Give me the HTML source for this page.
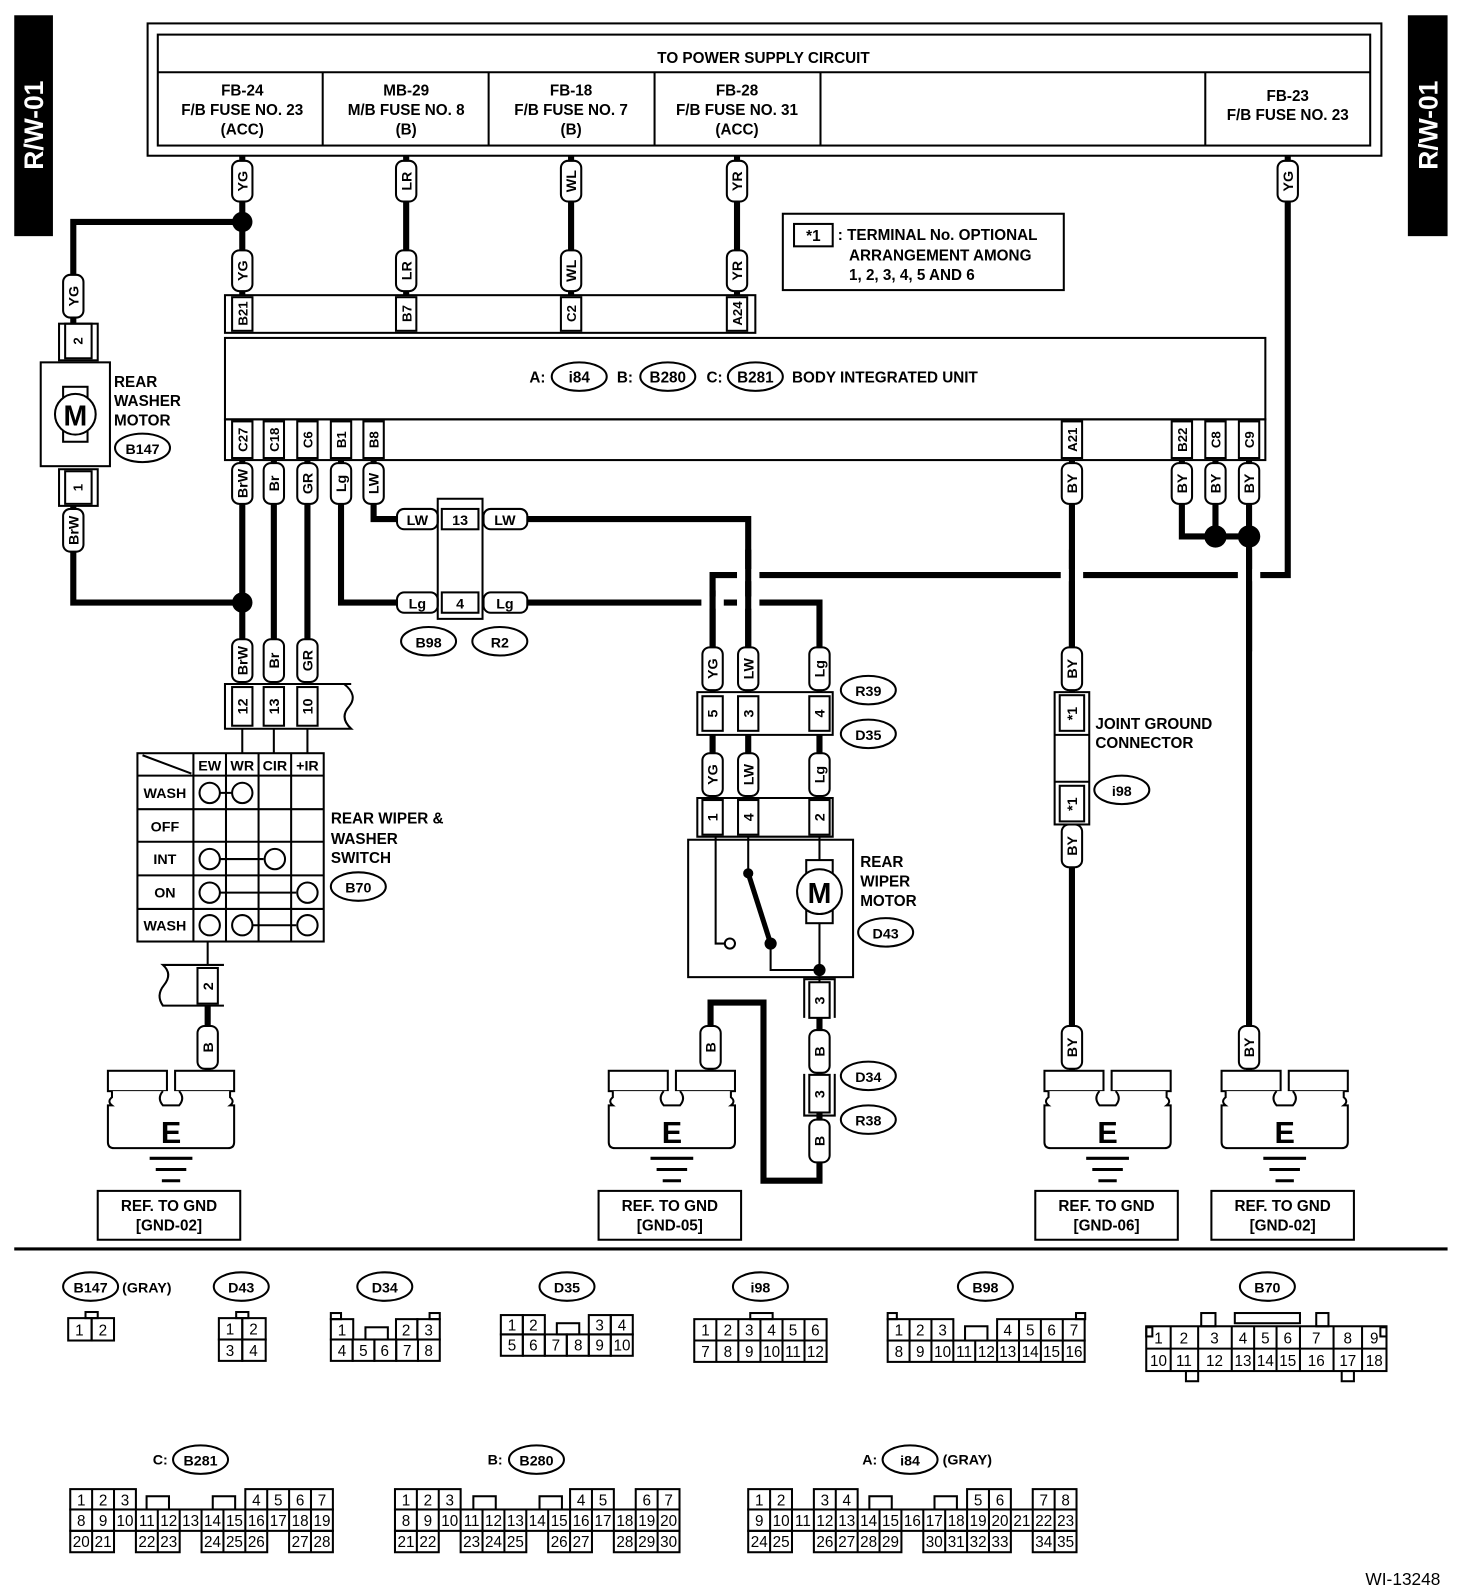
<!DOCTYPE html>
<html><head><meta charset="utf-8"><style>
html,body{margin:0;padding:0;background:#fff}
svg{display:block}
text{font-family:"Liberation Sans",sans-serif;font-weight:bold;fill:#000}
.c{text-anchor:middle}
.n{font-family:"Liberation Sans Narrow","Liberation Sans",sans-serif;font-weight:normal;font-size:15px;text-anchor:middle}
.th{fill:none;stroke:#000;stroke-width:2}
.w{fill:none;stroke:#000;stroke-width:6}
.p{fill:#fff;stroke:#000;stroke-width:2}
</style></head><body>
<svg width="1472" height="1596" viewBox="0 0 1446 1568" preserveAspectRatio="none" xmlns="http://www.w3.org/2000/svg">
<defs>
<g id="gnd">
<rect x="-62" y="1052" width="58" height="20" class="p"/>
<rect x="4" y="1052" width="58" height="20" class="p"/>
<path d="M-58,1072 V1078 Q-63,1082 -58,1086 H-62 V1122 Q-62,1128 -56,1128 H56 Q62,1128 62,1122 V1086 H58 Q63,1082 58,1078 V1072 M-8,1072 Q-14,1079 -8,1086 H8 Q14,1079 8,1072" class="p"/>
<text x="0" y="1123" class="c" style="font-size:30px">E</text>
<path d="M-21,1138 H21 M-15,1149 H15 M-9,1160 H9" stroke="#000" stroke-width="3"/>
</g>
</defs>
<rect x="14" y="15" width="38" height="217" fill="#000"/>
<text transform="translate(42,123) rotate(-90)" class="c" style="font-size:26px;fill:#fff">R/W-01</text>
<rect x="1383" y="15" width="39" height="217" fill="#000"/>
<text transform="translate(1412,123) rotate(-90)" class="c" style="font-size:26px;fill:#fff">R/W-01</text>

<rect x="145" y="23" width="1212" height="130" class="th"/>
<rect x="155" y="34" width="1191" height="109" class="th" stroke-width="3"/>
<line x1="155" y1="71" x2="1346" y2="71" class="th" stroke-width="3"/>
<path d="M317,71V143 M480,71V143 M643,71V143 M806,71V143 M1184,71V143" class="th"/>
<g style="font-size:15px" class="c">
<text x="750" y="62" class="c">TO POWER SUPPLY CIRCUIT</text>
<text x="238" y="94" class="c">FB-24</text><text x="238" y="113" class="c">F/B FUSE NO. 23</text><text x="238" y="132" class="c">(ACC)</text>
<text x="399" y="94" class="c">MB-29</text><text x="399" y="113" class="c">M/B FUSE NO. 8</text><text x="399" y="132" class="c">(B)</text>
<text x="561" y="94" class="c">FB-18</text><text x="561" y="113" class="c">F/B FUSE NO. 7</text><text x="561" y="132" class="c">(B)</text>
<text x="724" y="94" class="c">FB-28</text><text x="724" y="113" class="c">F/B FUSE NO. 31</text><text x="724" y="132" class="c">(ACC)</text>
<text x="1265" y="99" class="c">FB-23</text><text x="1265" y="118" class="c">F/B FUSE NO. 23</text>
</g>

<g class="w">
<path d="M238,153V290 M399,153V290 M561,153V290 M724,153V290"/>
<path d="M238,218H72V318"/>
<path d="M72,497V592H238"/>
<path d="M238,452V672 M269,452V672 M302,452V672"/>
<path d="M335,452V592H430 M367,452V510H430"/>
<path d="M474,510H735V680 M474,592H805V680"/>
<path d="M1265,153V565H700V680"/>
<path d="M1053,452V680 M1053,810V1052"/>
<path d="M1161,452V527H1227 M1194,452V527 M1227,452V1052"/>
<path d="M204,988V1052"/>
<path d="M805,1000V1160H750V985H698V1052"/>
</g>
<g fill="#fff">
<rect x="724" y="559" width="22" height="12"/>
<rect x="1042" y="559" width="22" height="12"/>
<rect x="1216" y="559" width="22" height="12"/>
<rect x="689" y="586" width="22" height="12"/>
<rect x="724" y="586" width="22" height="12"/>
</g>
<path d="M735,540V640 M1053,540V640 M1227,540V640 M700,580V640" class="w"/>
<circle cx="238" cy="218" r="10"/><circle cx="238" cy="592" r="10"/>
<circle cx="1194" cy="527" r="11"/><circle cx="1227" cy="527" r="11"/>

<g style="font-size:14px">
<g class="p">
<rect x="228" y="158" width="20" height="40" rx="7"/><rect x="389" y="158" width="20" height="40" rx="7"/><rect x="551" y="158" width="20" height="40" rx="7"/><rect x="714" y="158" width="20" height="40" rx="7"/><rect x="1255" y="158" width="20" height="40" rx="7"/>
<rect x="228" y="246" width="20" height="40" rx="7"/><rect x="389" y="246" width="20" height="40" rx="7"/><rect x="551" y="246" width="20" height="40" rx="7"/><rect x="714" y="246" width="20" height="40" rx="7"/>
<rect x="62" y="270" width="20" height="42" rx="7"/><rect x="62" y="500" width="20" height="42" rx="7"/>
<rect x="228" y="455" width="20" height="40" rx="7"/><rect x="259" y="455" width="20" height="40" rx="7"/><rect x="292" y="455" width="20" height="40" rx="7"/><rect x="325" y="455" width="20" height="40" rx="7"/><rect x="357" y="455" width="20" height="40" rx="7"/>
<rect x="1043" y="455" width="20" height="40" rx="7"/><rect x="1151" y="455" width="20" height="40" rx="7"/><rect x="1184" y="455" width="20" height="40" rx="7"/><rect x="1217" y="455" width="20" height="40" rx="7"/>
<rect x="228" y="628" width="20" height="42" rx="7"/><rect x="259" y="628" width="20" height="42" rx="7"/><rect x="292" y="628" width="20" height="42" rx="7"/>
<rect x="690" y="636" width="20" height="42" rx="7"/><rect x="725" y="636" width="20" height="42" rx="7"/><rect x="795" y="636" width="20" height="42" rx="7"/>
<rect x="690" y="740" width="20" height="42" rx="7"/><rect x="725" y="740" width="20" height="42" rx="7"/><rect x="795" y="740" width="20" height="42" rx="7"/>
<rect x="1043" y="636" width="20" height="42" rx="7"/><rect x="1043" y="810" width="20" height="42" rx="7"/>
<rect x="194" y="1008" width="20" height="42" rx="7"/><rect x="688" y="1008" width="20" height="42" rx="7"/><rect x="795" y="1012" width="20" height="42" rx="7"/><rect x="795" y="1100" width="20" height="42" rx="7"/>
<rect x="1043" y="1008" width="20" height="42" rx="7"/><rect x="1217" y="1008" width="20" height="42" rx="7"/>
</g>
<g class="c">
<text transform="translate(243,178) rotate(-90)" class="c">YG</text><text transform="translate(404,178) rotate(-90)" class="c">LR</text><text transform="translate(566,178) rotate(-90)" class="c">WL</text><text transform="translate(729,178) rotate(-90)" class="c">YR</text><text transform="translate(1270,178) rotate(-90)" class="c">YG</text>
<text transform="translate(243,266) rotate(-90)" class="c">YG</text><text transform="translate(404,266) rotate(-90)" class="c">LR</text><text transform="translate(566,266) rotate(-90)" class="c">WL</text><text transform="translate(729,266) rotate(-90)" class="c">YR</text>
<text transform="translate(77,291) rotate(-90)" class="c">YG</text><text transform="translate(77,521) rotate(-90)" class="c">BrW</text>
<text transform="translate(243,475) rotate(-90)" class="c">BrW</text><text transform="translate(274,475) rotate(-90)" class="c">Br</text><text transform="translate(307,475) rotate(-90)" class="c">GR</text><text transform="translate(340,475) rotate(-90)" class="c">Lg</text><text transform="translate(372,475) rotate(-90)" class="c">LW</text>
<text transform="translate(1058,475) rotate(-90)" class="c">BY</text><text transform="translate(1166,475) rotate(-90)" class="c">BY</text><text transform="translate(1199,475) rotate(-90)" class="c">BY</text><text transform="translate(1232,475) rotate(-90)" class="c">BY</text>
<text transform="translate(243,649) rotate(-90)" class="c">BrW</text><text transform="translate(274,649) rotate(-90)" class="c">Br</text><text transform="translate(307,649) rotate(-90)" class="c">GR</text>
<text transform="translate(705,657) rotate(-90)" class="c">YG</text><text transform="translate(740,657) rotate(-90)" class="c">LW</text><text transform="translate(810,657) rotate(-90)" class="c">Lg</text>
<text transform="translate(705,761) rotate(-90)" class="c">YG</text><text transform="translate(740,761) rotate(-90)" class="c">LW</text><text transform="translate(810,761) rotate(-90)" class="c">Lg</text>
<text transform="translate(1058,657) rotate(-90)" class="c">BY</text><text transform="translate(1058,831) rotate(-90)" class="c">BY</text>
<text transform="translate(209,1029) rotate(-90)" class="c">B</text><text transform="translate(703,1029) rotate(-90)" class="c">B</text><text transform="translate(810,1033) rotate(-90)" class="c">B</text><text transform="translate(810,1121) rotate(-90)" class="c">B</text>
<text transform="translate(1058,1029) rotate(-90)" class="c">BY</text><text transform="translate(1232,1029) rotate(-90)" class="c">BY</text>
</g>
<g class="p">
<rect x="390" y="500" width="40" height="20" rx="7"/><rect x="475" y="500" width="43" height="20" rx="7"/>
<rect x="390" y="582" width="40" height="20" rx="7"/><rect x="475" y="582" width="43" height="20" rx="7"/>
</g>
<text x="410" y="516" class="c">LW</text><text x="496" y="516" class="c">LW</text>
<text x="410" y="598" class="c">Lg</text><text x="496" y="598" class="c">Lg</text>
</g>

<rect x="221" y="290" width="521" height="37" class="th" stroke-width="3"/>
<g class="p"><rect x="228" y="292" width="20" height="33"/><rect x="389" y="292" width="20" height="33"/><rect x="551" y="292" width="20" height="33"/><rect x="714" y="292" width="20" height="33"/></g>
<g style="font-size:13px">
<text transform="translate(243,308) rotate(-90)" class="c">B21</text><text transform="translate(404,308) rotate(-90)" class="c">B7</text><text transform="translate(566,308) rotate(-90)" class="c">C2</text><text transform="translate(729,308) rotate(-90)" class="c">A24</text>
</g>
<rect x="221" y="332" width="1022" height="80" class="th" stroke-width="3"/>
<rect x="221" y="412" width="1022" height="40" class="th" stroke-width="3"/>
<g class="p"><rect x="228" y="414" width="20" height="36"/><rect x="259" y="414" width="20" height="36"/><rect x="292" y="414" width="20" height="36"/><rect x="325" y="414" width="20" height="36"/><rect x="357" y="414" width="20" height="36"/><rect x="1043" y="414" width="20" height="36"/><rect x="1151" y="414" width="20" height="36"/><rect x="1184" y="414" width="20" height="36"/><rect x="1217" y="414" width="20" height="36"/></g>
<g style="font-size:13px">
<text transform="translate(243,432) rotate(-90)" class="c">C27</text><text transform="translate(274,432) rotate(-90)" class="c">C18</text><text transform="translate(307,432) rotate(-90)" class="c">C6</text><text transform="translate(340,432) rotate(-90)" class="c">B1</text><text transform="translate(372,432) rotate(-90)" class="c">B8</text>
<text transform="translate(1058,432) rotate(-90)" class="c">A21</text><text transform="translate(1166,432) rotate(-90)" class="c">B22</text><text transform="translate(1199,432) rotate(-90)" class="c">C8</text><text transform="translate(1232,432) rotate(-90)" class="c">C9</text>
</g>
<g style="font-size:15px">
<text x="520" y="376">A:</text><ellipse cx="569" cy="370" rx="27" ry="14" class="p"/><text x="569" y="376" class="c">i84</text>
<text x="606" y="376">B:</text><ellipse cx="656" cy="370" rx="27" ry="14" class="p"/><text x="656" y="376" class="c">B280</text>
<text x="694" y="376">C:</text><ellipse cx="742" cy="370" rx="27" ry="14" class="p"/><text x="742" y="376" class="c">B281</text>
<text x="778" y="376">BODY INTEGRATED UNIT</text>
</g>

<rect x="769" y="210" width="276" height="75" class="th"/>
<rect x="780" y="220" width="38" height="22" class="th"/>
<g style="font-size:15px"><text x="799" y="237" class="c">*1</text>
<text x="823" y="236">: TERMINAL No. OPTIONAL</text><text x="834" y="256">ARRANGEMENT AMONG</text><text x="834" y="275">1, 2, 3, 4, 5 AND 6</text></g>

<rect x="64" y="318" width="26" height="34" class="th"/><rect x="58" y="318" width="38" height="36" class="th"/>
<text transform="translate(81,335) rotate(-90)" class="c" style="font-size:13px">2</text>
<rect x="40" y="356" width="68" height="102" class="th"/>
<rect x="62" y="380" width="24" height="54" class="th"/>
<circle cx="74" cy="407" r="20" class="p" stroke-width="3"/>
<text x="74" y="418" class="c" style="font-size:28px">M</text>
<rect x="58" y="461" width="38" height="36" class="th"/><rect x="64" y="463" width="26" height="32" class="th"/>
<text transform="translate(81,479) rotate(-90)" class="c" style="font-size:13px">1</text>
<g style="font-size:15px"><text x="112" y="380">REAR</text><text x="112" y="399">WASHER</text><text x="112" y="418">MOTOR</text></g>
<ellipse cx="140" cy="440" rx="27" ry="14" class="p"/><text x="140" y="446" class="c" style="font-size:14px">B147</text>

<path d="M430,490H474V608H430Z" class="th"/>
<rect x="434" y="500" width="36" height="20" class="p"/><rect x="434" y="582" width="36" height="20" class="p"/>
<text x="452" y="516" class="c" style="font-size:14px">13</text><text x="452" y="598" class="c" style="font-size:14px">4</text>
<ellipse cx="421" cy="630" rx="27" ry="14" class="p"/><text x="421" y="636" class="c" style="font-size:14px">B98</text>
<ellipse cx="491" cy="630" rx="27" ry="14" class="p"/><text x="491" y="636" class="c" style="font-size:14px">R2</text>

<path d="M345,672H221V716H345 Q333,705 343,694 Q352,683 338,672" class="th" stroke-width="3"/>
<g class="p"><rect x="228" y="675" width="20" height="38"/><rect x="259" y="675" width="20" height="38"/><rect x="292" y="675" width="20" height="38"/></g>
<g style="font-size:14px"><text transform="translate(243,694) rotate(-90)" class="c">12</text><text transform="translate(274,694) rotate(-90)" class="c">13</text><text transform="translate(307,694) rotate(-90)" class="c">10</text></g>
<path d="M238,716V740 M269,716V740 M302,716V740" class="th"/>
<rect x="135" y="740" width="183" height="185" class="th" stroke-width="3"/>
<path d="M190,740V925 M222,740V925 M254,740V925 M286,740V925 M135,762H318 M135,795H318 M135,827H318 M135,860H318 M135,893H318 M140,742 L188,760" class="th"/>
<g style="font-size:14px">
<text x="206" y="757" class="c">EW</text><text x="238" y="757" class="c">WR</text><text x="270" y="757" class="c">CIR</text><text x="302" y="757" class="c">+IR</text>
<text x="162" y="784" class="c">WASH</text><text x="162" y="817" class="c">OFF</text><text x="162" y="849" class="c">INT</text><text x="162" y="882" class="c">ON</text><text x="162" y="914" class="c">WASH</text>
</g>
<path d="M216,779H228 M216,844H259 M216,877H291 M248,909H291" class="th"/>
<g class="p"><circle cx="206" cy="779" r="10"/><circle cx="238" cy="779" r="10"/><circle cx="206" cy="844" r="10"/><circle cx="270" cy="844" r="10"/><circle cx="206" cy="877" r="10"/><circle cx="302" cy="877" r="10"/><circle cx="206" cy="909" r="10"/><circle cx="238" cy="909" r="10"/><circle cx="302" cy="909" r="10"/></g>
<g style="font-size:15px"><text x="325" y="809">REAR WIPER &amp;</text><text x="325" y="829">WASHER</text><text x="325" y="848">SWITCH</text></g>
<ellipse cx="352" cy="871" rx="27" ry="14" class="p"/><text x="352" y="877" class="c" style="font-size:14px">B70</text>
<path d="M204,925V948" class="th"/>
<path d="M220,948H160 Q170,957 161,968 Q153,978 160,988H220" class="th" stroke-width="3"/>
<rect x="194" y="951" width="20" height="35" class="p"/>
<text transform="translate(209,969) rotate(-90)" class="c" style="font-size:14px">2</text>

<path d="M685,680H818V722H685Z" class="th" stroke-width="3"/>
<g class="p"><rect x="690" y="684" width="20" height="34"/><rect x="725" y="684" width="20" height="34"/><rect x="795" y="684" width="20" height="34"/></g>
<g style="font-size:14px"><text transform="translate(705,701) rotate(-90)" class="c">5</text><text transform="translate(740,701) rotate(-90)" class="c">3</text><text transform="translate(810,701) rotate(-90)" class="c">4</text></g>
<ellipse cx="853" cy="678" rx="27" ry="14" class="p"/><text x="853" y="684" class="c" style="font-size:14px">R39</text>
<ellipse cx="853" cy="721" rx="27" ry="14" class="p"/><text x="853" y="727" class="c" style="font-size:14px">D35</text>
<path d="M700,722V740 M735,722V740 M805,722V740" class="w"/>
<path d="M685,784H818V822H685Z" class="th" stroke-width="3"/>
<g class="p"><rect x="690" y="786" width="20" height="34"/><rect x="725" y="786" width="20" height="34"/><rect x="795" y="786" width="20" height="34"/></g>
<g style="font-size:14px"><text transform="translate(705,803) rotate(-90)" class="c">1</text><text transform="translate(740,803) rotate(-90)" class="c">4</text><text transform="translate(810,803) rotate(-90)" class="c">2</text></g>
<rect x="676" y="825" width="162" height="135" class="th" stroke-width="3"/>
<path d="M703,822V927H712 M735,822V858 M757,927V953H805 M805,822V845 M805,907V965" class="th"/>
<path d="M735,858L757,927" stroke="#000" stroke-width="5"/>
<circle cx="735" cy="858" r="5"/><circle cx="757" cy="927" r="6"/><circle cx="805" cy="953" r="6"/>
<circle cx="717" cy="927" r="5" class="p"/>
<rect x="792" y="845" width="26" height="62" class="p"/>
<circle cx="805" cy="876" r="22" class="p"/>
<text x="805" y="887" class="c" style="font-size:28px">M</text>
<g style="font-size:15px"><text x="845" y="852">REAR</text><text x="845" y="871">WIPER</text><text x="845" y="890">MOTOR</text></g>
<ellipse cx="870" cy="916" rx="27" ry="14" class="p"/><text x="870" y="922" class="c" style="font-size:14px">D43</text>
<path d="M790,1000V962H820V1000" class="th"/><rect x="795" y="965" width="20" height="35" class="p"/>
<text transform="translate(810,983) rotate(-90)" class="c" style="font-size:14px">3</text>
<path d="M790,1055V1096H820V1055" class="th"/><rect x="795" y="1056" width="20" height="37" class="p"/>
<text transform="translate(810,1075) rotate(-90)" class="c" style="font-size:14px">3</text>
<ellipse cx="853" cy="1057" rx="27" ry="14" class="p"/><text x="853" y="1063" class="c" style="font-size:14px">D34</text>
<ellipse cx="853" cy="1100" rx="27" ry="14" class="p"/><text x="853" y="1106" class="c" style="font-size:14px">R38</text>

<rect x="1036" y="680" width="34" height="130" class="th"/>
<rect x="1041" y="683" width="24" height="35" class="p"/><rect x="1041" y="772" width="24" height="35" class="p"/>
<path d="M1036,722H1070 M1036,768H1070" class="th"/>
<g style="font-size:14px"><text transform="translate(1058,701) rotate(-90)" class="c">*1</text><text transform="translate(1058,790) rotate(-90)" class="c">*1</text></g>
<g style="font-size:15px"><text x="1076" y="716">JOINT GROUND</text><text x="1076" y="735">CONNECTOR</text></g>
<ellipse cx="1102" cy="776" rx="27" ry="14" class="p"/><text x="1102" y="782" class="c" style="font-size:14px">i98</text>

<use href="#gnd" x="168"/><use href="#gnd" x="660"/><use href="#gnd" x="1088"/><use href="#gnd" x="1262"/>
<g style="font-size:15px">
<rect x="96" y="1170" width="140" height="48" class="th"/><text x="166" y="1190" class="c">REF. TO GND</text><text x="166" y="1209" class="c">[GND-02]</text>
<rect x="588" y="1170" width="140" height="48" class="th"/><text x="658" y="1190" class="c">REF. TO GND</text><text x="658" y="1209" class="c">[GND-05]</text>
<rect x="1017" y="1170" width="140" height="48" class="th"/><text x="1087" y="1190" class="c">REF. TO GND</text><text x="1087" y="1209" class="c">[GND-06]</text>
<rect x="1190" y="1170" width="140" height="48" class="th"/><text x="1260" y="1190" class="c">REF. TO GND</text><text x="1260" y="1209" class="c">[GND-02]</text>
</g>
<line x1="14" y1="1227" x2="1422" y2="1227" stroke="#000" stroke-width="3"/>

<g style="font-size:14px">
<ellipse cx="89" cy="1264" rx="27" ry="14" class="p"/><text x="89" y="1270" class="c">B147</text><text x="120" y="1270">(GRAY)</text>
<ellipse cx="237" cy="1264" rx="27" ry="14" class="p"/><text x="237" y="1270" class="c">D43</text>
<ellipse cx="378" cy="1264" rx="27" ry="14" class="p"/><text x="378" y="1270" class="c">D34</text>
<ellipse cx="557" cy="1264" rx="27" ry="14" class="p"/><text x="557" y="1270" class="c">D35</text>
<ellipse cx="747" cy="1264" rx="27" ry="14" class="p"/><text x="747" y="1270" class="c">i98</text>
<ellipse cx="968" cy="1264" rx="27" ry="14" class="p"/><text x="968" y="1270" class="c">B98</text>
<ellipse cx="1245" cy="1264" rx="27" ry="14" class="p"/><text x="1245" y="1270" class="c">B70</text>
<text x="150" y="1439">C:</text><ellipse cx="197" cy="1434" rx="27" ry="14" class="p"/><text x="197" y="1440" class="c">B281</text>
<text x="479" y="1439">B:</text><ellipse cx="527" cy="1434" rx="27" ry="14" class="p"/><text x="527" y="1440" class="c">B280</text>
<text x="847" y="1439">A:</text><ellipse cx="894" cy="1434" rx="27" ry="14" class="p"/><text x="894" y="1440" class="c">i84</text><text x="926" y="1439">(GRAY)</text>
</g>
<g class="th" stroke-width="1.5">
<rect x="84" y="1289" width="12" height="6"/><rect x="67" y="1295" width="23" height="22"/><rect x="90" y="1295" width="22" height="22"/>
<rect x="232" y="1289" width="12" height="6"/><rect x="215" y="1295" width="23" height="21"/><rect x="238" y="1295" width="23" height="21"/><rect x="215" y="1316" width="23" height="21"/><rect x="238" y="1316" width="23" height="21"/>
<rect x="325" y="1290" width="10" height="6"/><rect x="422" y="1290" width="10" height="6"/><rect x="359" y="1304" width="22" height="12"/>
<rect x="325" y="1296" width="22" height="20"/><rect x="389" y="1296" width="21" height="20"/><rect x="410" y="1296" width="22" height="20"/>
<rect x="325" y="1316" width="21.4" height="21"/><rect x="346.4" y="1316" width="21.4" height="21"/><rect x="367.8" y="1316" width="21.4" height="21"/><rect x="389.2" y="1316" width="21.4" height="21"/><rect x="410.6" y="1316" width="21.4" height="21"/>
<rect x="547" y="1300" width="22" height="11"/>
<rect x="492" y="1292" width="21.6" height="19"/><rect x="513.6" y="1292" width="21.6" height="19"/><rect x="578.4" y="1292" width="21.6" height="19"/><rect x="600" y="1292" width="21.6" height="19"/>
<rect x="492" y="1311" width="21.6" height="21"/><rect x="513.6" y="1311" width="21.6" height="21"/><rect x="535.2" y="1311" width="21.6" height="21"/><rect x="556.8" y="1311" width="21.6" height="21"/><rect x="578.4" y="1311" width="21.6" height="21"/><rect x="600" y="1311" width="21.6" height="21"/>
<rect x="737" y="1290" width="22" height="6"/>
<rect x="682" y="1296" width="130" height="42"/><path d="M682,1317H812 M703.7,1296V1338 M725.3,1296V1338 M747,1296V1338 M768.7,1296V1338 M790.3,1296V1338"/>
<rect x="872" y="1290" width="9" height="6"/><rect x="1057" y="1290" width="9" height="6"/><rect x="948" y="1303" width="22" height="14"/>
<rect x="872" y="1296" width="64.5" height="21"/><path d="M893.5,1296V1317 M915,1296V1317"/>
<rect x="979.5" y="1296" width="86" height="21"/><path d="M1001,1296V1317 M1022.5,1296V1317 M1044,1296V1317"/>
<rect x="872" y="1317" width="193.5" height="21"/><path d="M893.5,1317V1338 M915,1317V1338 M936.5,1317V1338 M958,1317V1338 M979.5,1317V1338 M1001,1317V1338 M1022.5,1317V1338 M1044,1317V1338"/>
<rect x="1126" y="1304" width="6" height="9"/><rect x="1180" y="1290" width="14" height="13"/><rect x="1213" y="1290" width="64" height="10"/><rect x="1293" y="1290" width="12" height="13"/><rect x="1356" y="1304" width="6" height="9"/>
<rect x="1126" y="1303" width="236" height="44"/><path d="M1126,1325H1362 M1150,1303V1347 M1177,1303V1347 M1210,1303V1347 M1232,1303V1347 M1254,1303V1347 M1277,1303V1347 M1310,1303V1347 M1338,1303V1347"/>
<rect x="1165" y="1347" width="12" height="10"/><rect x="1318" y="1347" width="12" height="10"/>
<rect x="144" y="1470" width="22" height="13"/><rect x="209" y="1470" width="22" height="13"/>
<rect x="69" y="1463" width="64.5" height="20"/><path d="M90.5,1463V1483 M112,1463V1483"/>
<rect x="241" y="1463" width="86" height="20"/><path d="M262.5,1463V1483 M284,1463V1483 M305.5,1463V1483"/>
<rect x="69" y="1483" width="258" height="21"/><path d="M90.5,1483V1504 M112,1483V1504 M133.5,1483V1504 M155,1483V1504 M176.5,1483V1504 M198,1483V1504 M219.5,1483V1504 M241,1483V1504 M262.5,1483V1504 M284,1483V1504 M305.5,1483V1504"/>
<rect x="69" y="1504" width="43" height="21"/><path d="M90.5,1504V1525"/><rect x="133.5" y="1504" width="43" height="21"/><path d="M155,1504V1525"/><rect x="198" y="1504" width="64.5" height="21"/><path d="M219.5,1504V1525 M241,1504V1525"/><rect x="284" y="1504" width="43" height="21"/><path d="M305.5,1504V1525"/>
<rect x="465" y="1470" width="22" height="13"/><rect x="530" y="1470" width="22" height="13"/>
<rect x="388" y="1463" width="64.5" height="20"/><path d="M409.5,1463V1483 M431,1463V1483"/>
<rect x="560" y="1463" width="43" height="20"/><path d="M581.5,1463V1483"/>
<rect x="624.5" y="1463" width="43" height="20"/><path d="M646,1463V1483"/>
<rect x="388" y="1483" width="279.5" height="21"/><path d="M409.5,1483V1504 M431,1483V1504 M452.5,1483V1504 M474,1483V1504 M495.5,1483V1504 M517,1483V1504 M538.5,1483V1504 M560,1483V1504 M581.5,1483V1504 M603,1483V1504 M624.5,1483V1504 M646,1483V1504"/>
<rect x="388" y="1504" width="43" height="21"/><path d="M409.5,1504V1525"/><rect x="452.5" y="1504" width="64.5" height="21"/><path d="M474,1504V1525 M495.5,1504V1525"/><rect x="538.5" y="1504" width="43" height="21"/><path d="M560,1504V1525"/><rect x="603" y="1504" width="64.5" height="21"/><path d="M624.5,1504V1525 M646,1504V1525"/>
<rect x="854" y="1470" width="22" height="13"/><rect x="918" y="1470" width="22" height="13"/>
<rect x="735" y="1463" width="43" height="20"/><path d="M756.5,1463V1483"/>
<rect x="799.5" y="1463" width="43" height="20"/><path d="M821,1463V1483"/>
<rect x="950" y="1463" width="43" height="20"/><path d="M971.5,1463V1483"/>
<rect x="1014.5" y="1463" width="43" height="20"/><path d="M1036,1463V1483"/>
<rect x="735" y="1483" width="322.5" height="21"/><path d="M756.5,1483V1504 M778,1483V1504 M799.5,1483V1504 M821,1483V1504 M842.5,1483V1504 M864,1483V1504 M885.5,1483V1504 M907,1483V1504 M928.5,1483V1504 M950,1483V1504 M971.5,1483V1504 M993,1483V1504 M1014.5,1483V1504 M1036,1483V1504"/>
<rect x="735" y="1504" width="43" height="21"/><path d="M756.5,1504V1525"/><rect x="799.5" y="1504" width="86" height="21"/><path d="M821,1504V1525 M842.5,1504V1525 M864,1504V1525"/><rect x="907" y="1504" width="86" height="21"/><path d="M928.5,1504V1525 M950,1504V1525 M971.5,1504V1525"/><rect x="1014.5" y="1504" width="43" height="21"/><path d="M1036,1504V1525"/>
</g>
<g class="n">
<text x="78" y="1312" class="n">1</text><text x="101" y="1312" class="n">2</text>
<text x="226" y="1311" class="n">1</text><text x="249" y="1311" class="n">2</text><text x="226" y="1332" class="n">3</text><text x="249" y="1332" class="n">4</text>
<text x="336" y="1312" class="n">1</text><text x="399" y="1312" class="n">2</text><text x="421" y="1312" class="n">3</text>
<text x="336" y="1332" class="n">4</text><text x="357" y="1332" class="n">5</text><text x="378" y="1332" class="n">6</text><text x="400" y="1332" class="n">7</text><text x="421" y="1332" class="n">8</text>
<text x="503" y="1307" class="n">1</text><text x="524" y="1307" class="n">2</text><text x="589" y="1307" class="n">3</text><text x="611" y="1307" class="n">4</text>
<text x="503" y="1327" class="n">5</text><text x="524" y="1327" class="n">6</text><text x="546" y="1327" class="n">7</text><text x="568" y="1327" class="n">8</text><text x="589" y="1327" class="n">9</text><text x="611" y="1327" class="n">10</text>
<text x="693" y="1312" class="n">1</text><text x="715" y="1312" class="n">2</text><text x="736" y="1312" class="n">3</text><text x="758" y="1312" class="n">4</text><text x="779" y="1312" class="n">5</text><text x="801" y="1312" class="n">6</text>
<text x="693" y="1333" class="n">7</text><text x="715" y="1333" class="n">8</text><text x="736" y="1333" class="n">9</text><text x="758" y="1333" class="n">10</text><text x="779" y="1333" class="n">11</text><text x="801" y="1333" class="n">12</text>
<text x="883" y="1312" class="n">1</text><text x="904" y="1312" class="n">2</text><text x="926" y="1312" class="n">3</text><text x="990" y="1312" class="n">4</text><text x="1012" y="1312" class="n">5</text><text x="1033" y="1312" class="n">6</text><text x="1055" y="1312" class="n">7</text>
<text x="883" y="1333" class="n">8</text><text x="904" y="1333" class="n">9</text><text x="926" y="1333" class="n">10</text><text x="947" y="1333" class="n">11</text><text x="969" y="1333" class="n">12</text><text x="990" y="1333" class="n">13</text><text x="1012" y="1333" class="n">14</text><text x="1033" y="1333" class="n">15</text><text x="1055" y="1333" class="n">16</text>
<text x="1138" y="1320" class="n">1</text><text x="1163" y="1320" class="n">2</text><text x="1193" y="1320" class="n">3</text><text x="1221" y="1320" class="n">4</text><text x="1243" y="1320" class="n">5</text><text x="1265" y="1320" class="n">6</text><text x="1293" y="1320" class="n">7</text><text x="1324" y="1320" class="n">8</text><text x="1350" y="1320" class="n">9</text>
<text x="1138" y="1342" class="n">10</text><text x="1163" y="1342" class="n">11</text><text x="1193" y="1342" class="n">12</text><text x="1221" y="1342" class="n">13</text><text x="1243" y="1342" class="n">14</text><text x="1265" y="1342" class="n">15</text><text x="1293" y="1342" class="n">16</text><text x="1324" y="1342" class="n">17</text><text x="1350" y="1342" class="n">18</text>
<text x="79.8" y="1479" class="n">1</text><text x="101.3" y="1479" class="n">2</text><text x="122.8" y="1479" class="n">3</text><text x="251.8" y="1479" class="n">4</text><text x="273.3" y="1479" class="n">5</text><text x="294.8" y="1479" class="n">6</text><text x="316.3" y="1479" class="n">7</text>
<text x="79.8" y="1499" class="n">8</text><text x="101.3" y="1499" class="n">9</text><text x="122.8" y="1499" class="n">10</text><text x="144.3" y="1499" class="n">11</text><text x="165.8" y="1499" class="n">12</text><text x="187.3" y="1499" class="n">13</text><text x="208.8" y="1499" class="n">14</text><text x="230.3" y="1499" class="n">15</text><text x="251.8" y="1499" class="n">16</text><text x="273.3" y="1499" class="n">17</text><text x="294.8" y="1499" class="n">18</text><text x="316.3" y="1499" class="n">19</text>
<text x="79.8" y="1520" class="n">20</text><text x="101.3" y="1520" class="n">21</text><text x="144.3" y="1520" class="n">22</text><text x="165.8" y="1520" class="n">23</text><text x="208.8" y="1520" class="n">24</text><text x="230.3" y="1520" class="n">25</text><text x="251.8" y="1520" class="n">26</text><text x="294.8" y="1520" class="n">27</text><text x="316.3" y="1520" class="n">28</text>
<text x="398.8" y="1479" class="n">1</text><text x="420.3" y="1479" class="n">2</text><text x="441.8" y="1479" class="n">3</text><text x="570.8" y="1479" class="n">4</text><text x="592.3" y="1479" class="n">5</text><text x="635.3" y="1479" class="n">6</text><text x="656.8" y="1479" class="n">7</text>
<text x="398.8" y="1499" class="n">8</text><text x="420.3" y="1499" class="n">9</text><text x="441.8" y="1499" class="n">10</text><text x="463.3" y="1499" class="n">11</text><text x="484.8" y="1499" class="n">12</text><text x="506.3" y="1499" class="n">13</text><text x="527.8" y="1499" class="n">14</text><text x="549.3" y="1499" class="n">15</text><text x="570.8" y="1499" class="n">16</text><text x="592.3" y="1499" class="n">17</text><text x="613.8" y="1499" class="n">18</text><text x="635.3" y="1499" class="n">19</text><text x="656.8" y="1499" class="n">20</text>
<text x="398.8" y="1520" class="n">21</text><text x="420.3" y="1520" class="n">22</text><text x="463.3" y="1520" class="n">23</text><text x="484.8" y="1520" class="n">24</text><text x="506.3" y="1520" class="n">25</text><text x="549.3" y="1520" class="n">26</text><text x="570.8" y="1520" class="n">27</text><text x="613.8" y="1520" class="n">28</text><text x="635.3" y="1520" class="n">29</text><text x="656.8" y="1520" class="n">30</text>
<text x="745.8" y="1479" class="n">1</text><text x="767.3" y="1479" class="n">2</text><text x="810.3" y="1479" class="n">3</text><text x="831.8" y="1479" class="n">4</text><text x="960.8" y="1479" class="n">5</text><text x="982.3" y="1479" class="n">6</text><text x="1025.3" y="1479" class="n">7</text><text x="1046.8" y="1479" class="n">8</text>
<text x="745.8" y="1499" class="n">9</text><text x="767.3" y="1499" class="n">10</text><text x="788.8" y="1499" class="n">11</text><text x="810.3" y="1499" class="n">12</text><text x="831.8" y="1499" class="n">13</text><text x="853.3" y="1499" class="n">14</text><text x="874.8" y="1499" class="n">15</text><text x="896.3" y="1499" class="n">16</text><text x="917.8" y="1499" class="n">17</text><text x="939.3" y="1499" class="n">18</text><text x="960.8" y="1499" class="n">19</text><text x="982.3" y="1499" class="n">20</text><text x="1003.8" y="1499" class="n">21</text><text x="1025.3" y="1499" class="n">22</text><text x="1046.8" y="1499" class="n">23</text>
<text x="745.8" y="1520" class="n">24</text><text x="767.3" y="1520" class="n">25</text><text x="810.3" y="1520" class="n">26</text><text x="831.8" y="1520" class="n">27</text><text x="853.3" y="1520" class="n">28</text><text x="874.8" y="1520" class="n">29</text><text x="917.8" y="1520" class="n">30</text><text x="939.3" y="1520" class="n">31</text><text x="960.8" y="1520" class="n">32</text><text x="982.3" y="1520" class="n">33</text><text x="1025.3" y="1520" class="n">34</text><text x="1046.8" y="1520" class="n">35</text>
</g>
<text x="1415" y="1557" style="font-size:17px;font-weight:normal;text-anchor:end">WI-13248</text>
</svg>
</body></html>
